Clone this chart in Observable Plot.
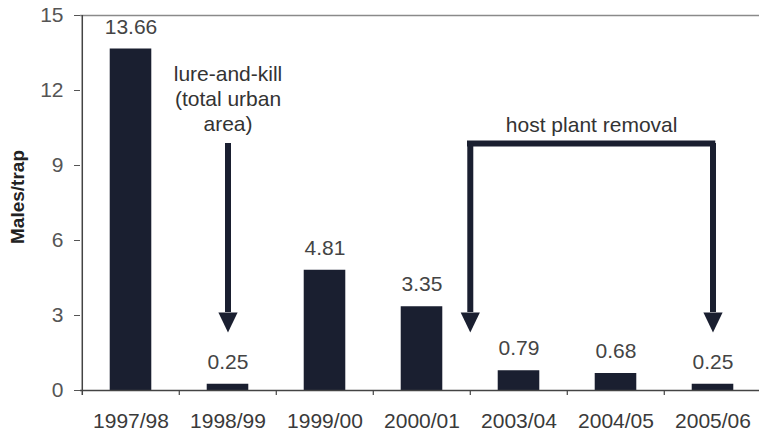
<!DOCTYPE html>
<html>
<head>
<meta charset="utf-8">
<script src="https://cdn.jsdelivr.net/npm/d3@7"></script>
<script src="https://cdn.jsdelivr.net/npm/@observablehq/plot@0.6"></script>
<style>
  html, body { margin: 0; padding: 0; background: #fff; }
  #chart { width: 759px; height: 434px; }
</style>
</head>
<body>
<div id="chart"></div>
<script>
// Seasons surveyed and mean number of males caught per trap
const seasons = ["1997/98", "1998/99", "1999/00", "2000/01", "2003/04", "2004/05", "2005/06"];
const malesPerTrap = [13.66, 0.25, 4.81, 3.35, 0.79, 0.68, 0.25];
const yTicks = [0, 3, 6, 9, 12, 15];

// Control measures marked on the chart
const lureText = "lure-and-kill\n(total urban\narea)";
const lureSeason = "1998/99";
const lureTextLevel = 11.7;
const hostText = "host plant removal";
const hostTextSeason = "2004/05";
const hostTextLevel = 10.6;
// arrows: season, offset in bands, top and tip of the arrow (males/trap)
const arrowSeasons = ["1998/99", "2003/04", "2005/06"];
const arrowShift = [0, -0.5, 0];
const arrowTop = [9.88, 9.88, 9.88];
const arrowTip = [2.32, 2.32, 2.32];
const bracketFrom = "2003/04";
const bracketTo = "2005/06";
const bracketLevel = 9.88;

const data = seasons.map((s, i) => ({season: s, value: malesPerTrap[i]}));

const W = 759, H = 434;
const left = 80, right = 762;
const step = (right - left) / seasons.length;
const barWidth = 42;
const inset = (step - barWidth) / 2;
const ink = "#1a1f30";
const fmt = d3.format(".2f");

// custom downward triangle whose tip sits on the anchor point
const headDown = {
  draw(ctx, size) {
    const h = Math.sqrt(size / Math.PI) * 2;
    const w = h * 0.48;
    ctx.moveTo(0, 0);
    ctx.lineTo(-w, -h);
    ctx.lineTo(w, -h);
    ctx.closePath();
  }
};

const arrowMarks = arrowSeasons.flatMap((s, i) => {
  const dx = arrowShift[i] * step;
  const a = [{season: s, top: arrowTop[i], tip: arrowTip[i], base: arrowTip[i] + 0.8}];
  return [
    Plot.ruleX(a, {x: "season", y1: "base", y2: "top", stroke: ink, strokeWidth: 6, dx}),
    Plot.dot(a, {x: "season", y: "tip", symbol: headDown, r: 10, fill: ink, stroke: "none", dx})
  ];
});

const chart = Plot.plot({
  width: W,
  height: H,
  marginLeft: left,
  marginRight: 0,
  marginTop: 15,
  marginBottom: 44,
  style: {fontFamily: "'Liberation Sans', Arial, sans-serif", fontSize: "21px", color: "#3a3a3a", background: "#fff"},
  x: {domain: seasons, range: [left, right], padding: 0},
  y: {domain: [0, 15]},
  marks: [
    // frame top
    Plot.ruleY([15], {stroke: "#8a8a8a", strokeWidth: 1.5}),
    // bars
    Plot.barY(data, {x: "season", y: "value", fill: ink, insetLeft: inset, insetRight: inset}),
    // value labels
    Plot.text(data, {x: "season", y: "value", text: d => fmt(d.value), dy: -22, fill: "#444", fontSize: 21}),
    // axes
    Plot.axisY({ticks: yTicks, tickSize: 6, tickPadding: 11, label: null, stroke: "#555", fill: "#555", fontSize: 21}),
    Plot.axisX({tickSize: 0, tickPadding: 23, label: null, fill: "#3a3a3a", fontSize: 21}),
    Plot.ruleY([0], {stroke: "#444", strokeWidth: 1.5}),
    Plot.ruleX(seasons.slice(0, 1), {x: d => d, y1: -0.2, y2: 15, dx: -step / 2, stroke: "#444", strokeWidth: 1.5}),
    Plot.ruleX(seasons.slice(1), {x: d => d, y1: -0.2, y2: 0, dx: -step / 2, stroke: "#444", strokeWidth: 1.2}),
    // y axis title
    Plot.text(["Males/trap"], {frameAnchor: "left", textAnchor: "middle", dx: -63, dy: -6, rotate: -90, fill: "#222", fontWeight: "bold", fontSize: 19}),
    // annotations
    Plot.text([lureText], {x: () => lureSeason, y: () => lureTextLevel, lineHeight: 1.2, fill: "#333", fontSize: 21}),
    Plot.text([hostText], {x: () => hostTextSeason, y: () => hostTextLevel, dx: -0.25 * step, fill: "#333", fontSize: 21}),
    Plot.ruleY([{a: bracketFrom, b: bracketTo, y: bracketLevel}], {
      x1: "a", x2: "b", y: "y", insetLeft: -3, insetRight: step / 2 - 3,
      stroke: ink, strokeWidth: 6
    }),
    ...arrowMarks
  ]
});

document.getElementById("chart").appendChild(chart);
</script>
</body>
</html>
